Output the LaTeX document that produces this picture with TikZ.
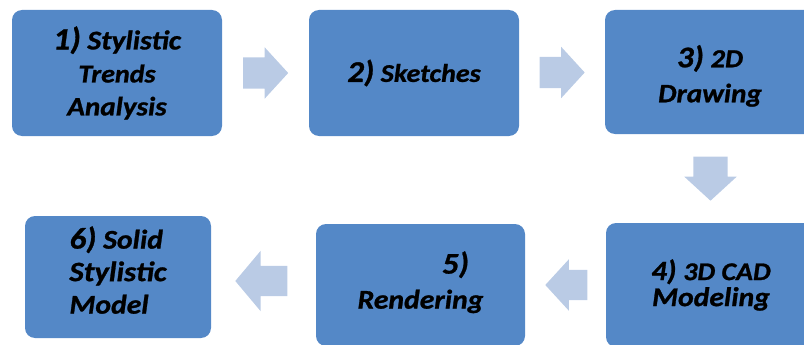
\documentclass[tikz,border=0pt]{standalone}
\usepackage{fontspec}
\setmainfont{Carlito}[FakeStretch=1.1, BoldItalicFeatures={FakeBold=1}]
\usetikzlibrary{shapes.arrows,calc}
\definecolor{boxblue}{RGB}{84,136,199}
\definecolor{arrowblue}{RGB}{186,203,229}
\newcommand{\stagesz}[2]{{\fontsize{#1}{32}\selectfont #2}}
\tikzset{
    stagebox/.style={
        rectangle,
        rounded corners=10pt,
        fill=boxblue,
        draw=none,
        align=center,
        inner sep=0pt,
        minimum width=210pt,
        minimum height=124pt,
        font=\bfseries\itshape\fontsize{26}{33}\selectfont,
    },
    blockarrow/.style={
        single arrow,
        fill=arrowblue,
        draw=none,
        anchor=tail,
        inner xsep=0pt,
        inner ysep=15.5pt,
        single arrow head extend=10pt,
        single arrow tip angle=95,
    },
}
\begin{document}
\begin{tikzpicture}[x=1pt,y=-1pt]
    \useasboundingbox (0,0) rectangle (804,345);
    \node[stagebox, minimum height=126pt] (trends) at (117,73)
        {\stagesz{31}{1)} \stagesz{27}{Stylistic}\\\stagesz{25.5}{Trends}\\\stagesz{26.5}{Analysis}};
    \node[stagebox, minimum height=126pt] (sketches) at (414,73)
        {\stagesz{30}{2)} \stagesz{25.5}{Sketches}};
    \node[stagebox, font=\bfseries\itshape\fontsize{26.5}{35}\selectfont] (drawing) at (710,72)
        {\rule{0pt}{30pt}\stagesz{30}{3)} \stagesz{26}{2D}\\Drawing};
    \node[stagebox, font=\bfseries\itshape\fontsize{27}{26}\selectfont] (cad) at (711,285)
        {\stagesz{28}{4)} \stagesz{25.5}{3D CAD}\\Modeling};
    \node[stagebox, minimum width=209pt, minimum height=122pt,
        font=\bfseries\itshape\fontsize{27}{35}\selectfont] (rendering) at (420.5,285)
        {\hspace*{70pt}\stagesz{30}{5)}\\Rendering\rule[-10pt]{0pt}{0pt}};
    \node[stagebox, align=left, minimum width=186pt, minimum height=122pt,
        font=\bfseries\itshape\fontsize{27}{32.5}\selectfont] (solid) at (118,277)
        {\stagesz{30}{6)} Solid\\\stagesz{28}{Stylistic}\\Model\rule[-14pt]{0pt}{0pt}};
    \node[blockarrow, minimum height=45pt]
        (a12) at ($(trends.east)!0.5!(sketches.west)+(-22.5,0)$) {};
    \node[blockarrow, minimum height=45pt]
        (a23) at ($(sketches.east)!0.5!(drawing.west)+(-22.5,0)$) {};
    \node[blockarrow, rotate=-90, minimum height=44pt, inner ysep=17pt, single arrow head extend=9pt]
        (a34) at ($(drawing.south)!0.5!(cad.north)+(0,-22)$) {};
    \node[blockarrow, rotate=180, minimum height=42pt, inner ysep=15pt, single arrow head extend=10.5pt]
        (a45) at ($(cad.west)!0.5!(rendering.east)+(22,0)$) {};
    \node[blockarrow, rotate=180, minimum height=52pt, inner ysep=15pt, single arrow head extend=15pt,
        single arrow tip angle=100]
        (a56) at ($(rendering.west)!0.5!(solid.east)+(24,0)$) {};
\end{tikzpicture}
\end{document}
